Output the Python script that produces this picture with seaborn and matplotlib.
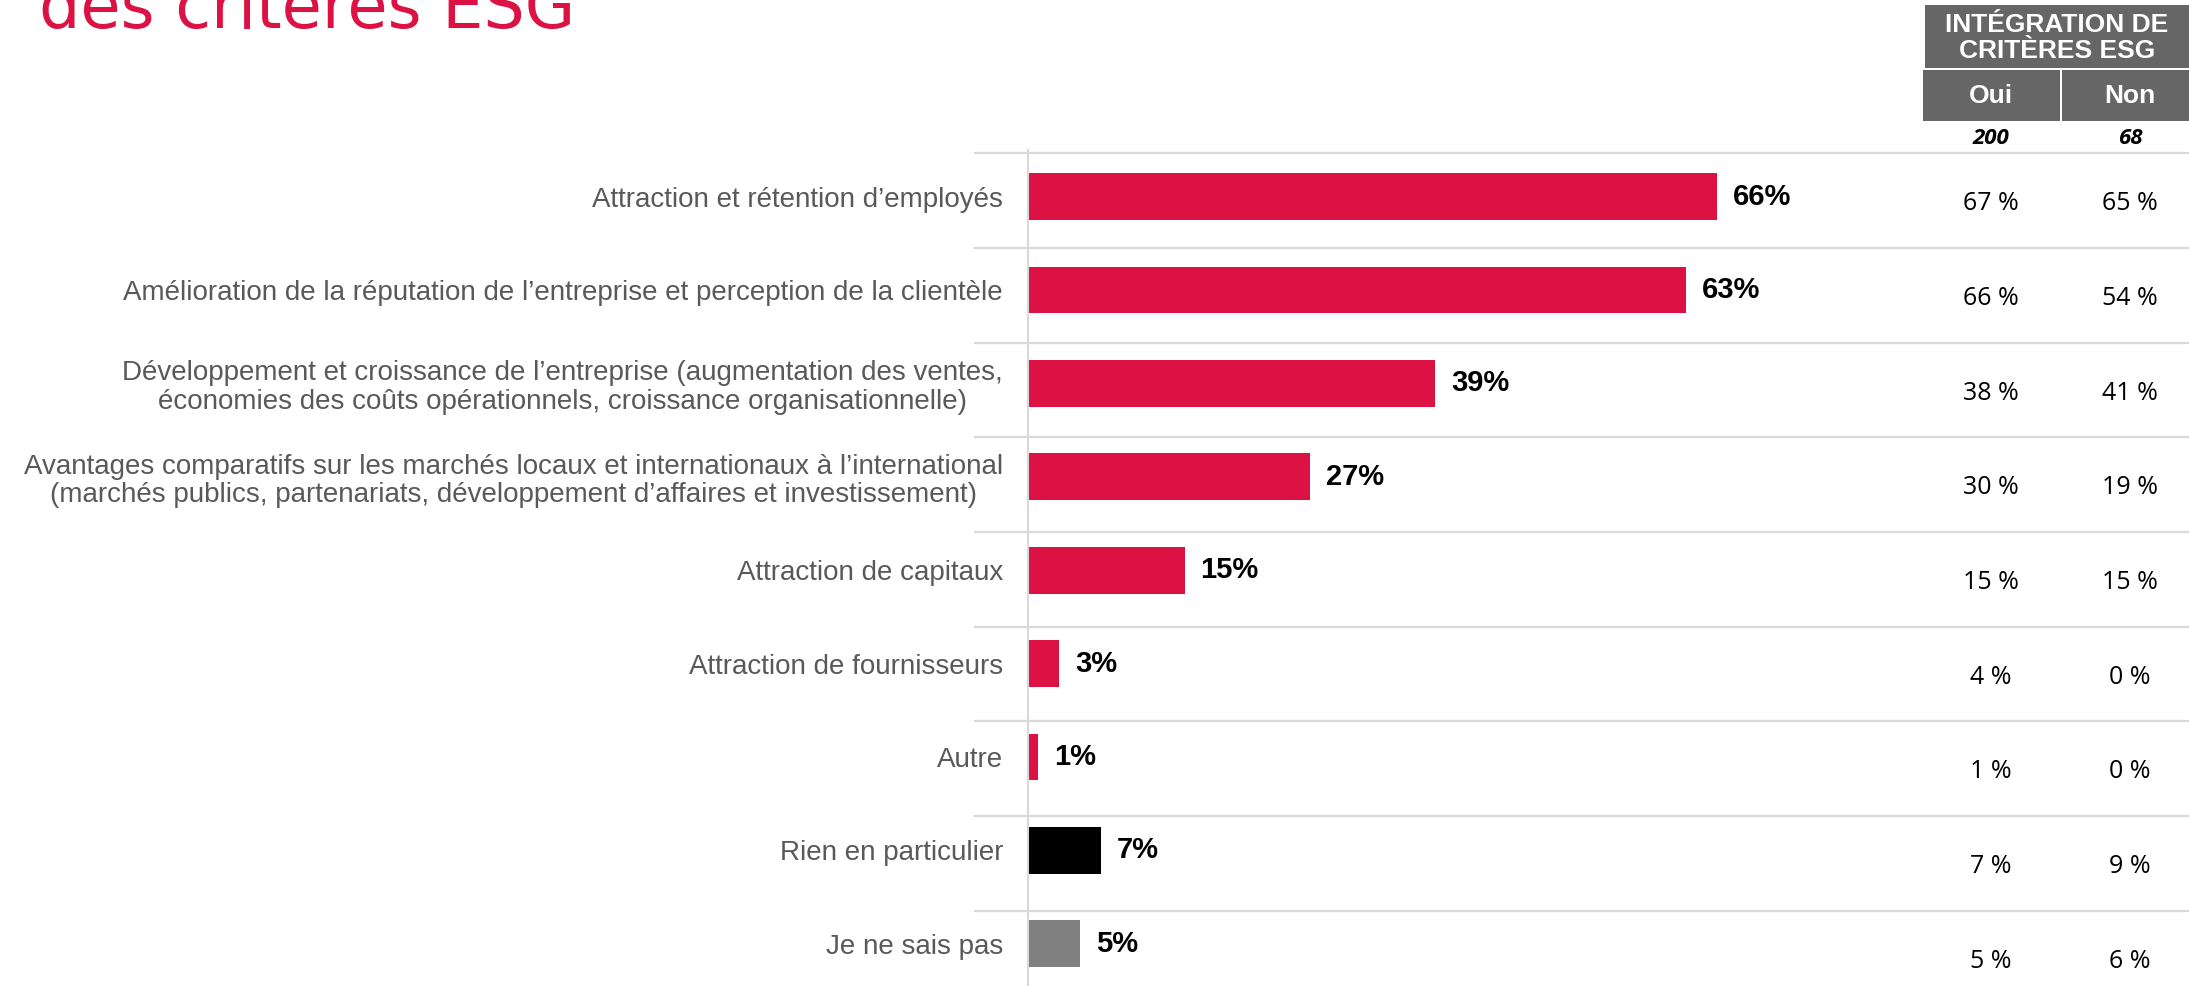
import seaborn as sns
import matplotlib.pyplot as plt
import matplotlib.transforms as mtransforms
from matplotlib.patches import Rectangle
import pandas as pd

# data
categories = [
    "Attraction et rétention d’employés",
    "Amélioration de la réputation de l’entreprise et perception de la clientèle",
    "Développement et croissance de l’entreprise (augmentation des ventes,\néconomies des coûts opérationnels, croissance organisationnelle)",
    "Avantages comparatifs sur les marchés locaux et internationaux à l’international\n(marchés publics, partenariats, développement d’affaires et investissement)",
    "Attraction de capitaux",
    "Attraction de fournisseurs",
    "Autre",
    "Rien en particulier",
    "Je ne sais pas",
]
total = [66, 63, 39, 27, 15, 3, 1, 7, 5]
oui = [67, 66, 38, 30, 15, 4, 1, 7, 5]
non = [65, 54, 41, 19, 15, 0, 0, 9, 6]
n_oui, n_non = 200, 68
bar_colors = ["#DC1244"] * 7 + ["#000000", "#808080"]

W, H = 2189, 986
fig = plt.figure(figsize=(W / 100, H / 100), dpi=100)
fig.patch.set_facecolor("white")

ax = fig.add_axes([1028 / W, 0, (W - 1028) / W, 836 / H])
df = pd.DataFrame({"cat": categories, "val": total})
sns.barplot(data=df, x="val", y="cat", hue="cat", palette=bar_colors,
            legend=False, width=0.5, orient="h", ax=ax, saturation=1)

ax.set_xlim(0, 111.2)
ax.set_ylim(8.453, -0.5)
ax.set_xlabel("")
ax.set_ylabel("")
ax.set_xticks([])
for s in ["top", "right", "bottom"]:
    ax.spines[s].set_visible(False)
ax.spines["left"].set_color("#D9D9D9")
ax.spines["left"].set_linewidth(1.5)
ax.tick_params(axis="y", length=0, pad=18)
ax.set_yticks(range(len(categories)))
ax.set_yticklabels(categories, fontsize=20, color="#595959",
                   family="Liberation Sans", multialignment="center",
                   linespacing=1.12)

# value labels
for i, v in enumerate(total):
    ax.text(v + 1.5, i, f"{v}%", va="center", ha="left", fontsize=21,
            fontweight="bold", family="Liberation Sans", color="black")

# row separators and side table
tr = mtransforms.blended_transform_factory(fig.transFigure, ax.transData)
step = 1.014
for k in range(10):
    y = -0.466 + k * step
    ax.plot([975 / W, 1.0], [y, y], color="#D9D9D9", lw=1.6,
            transform=tr, clip_on=False, zorder=0)

x_oui, x_non = 1991 / W, 2130 / W
for i, (a, b) in enumerate(zip(oui, non)):
    y = 0.075 + i * step
    ax.text(x_oui, y, f"{a} %", transform=tr, ha="center", va="center",
            fontsize=18, family="Open Sans", color="black", clip_on=False)
    ax.text(x_non, y, f"{b} %", transform=tr, ha="center", va="center",
            fontsize=18, family="Open Sans", color="black", clip_on=False)

# header boxes
gray = "#666666"
def box(x0, x1, y0, y1):
    fig.add_artist(Rectangle((x0 / W, 1 - y1 / H), (x1 - x0) / W, (y1 - y0) / H,
                             transform=fig.transFigure, facecolor=gray,
                             edgecolor="none"))

box(1925, 2189, 5, 68)
box(1923, 2060, 70, 121)
box(2062, 2189, 70, 121)
fig.text(2057 / W, 1 - 38 / H, "INTÉGRATION DE\nCRITÈRES ESG", ha="center",
         va="center", color="white", fontsize=19, fontweight="bold",
         family="Liberation Sans", linespacing=1.12)
fig.text(x_oui, 1 - 96 / H, "Oui", ha="center", va="center", color="white",
         fontsize=19, fontweight="bold", family="Liberation Sans")
fig.text(x_non, 1 - 96 / H, "Non", ha="center", va="center", color="white",
         fontsize=19, fontweight="bold", family="Liberation Sans")
fig.text(x_oui, 1 - 138 / H, str(n_oui), ha="center", va="center",
         fontsize=16, fontweight="bold", style="italic", family="Open Sans")
fig.text(x_non, 1 - 138 / H, str(n_non), ha="center", va="center",
         fontsize=16, fontweight="bold", style="italic", family="Open Sans")

# title (cut at top, as in the source slide)
fig.text(39 / W, 1 - 28 / H, "des critères ESG", ha="left", va="baseline",
         fontsize=47, color="#DC1244", family="DejaVu Sans")

fig.savefig("out.png", dpi=100, facecolor="white")
